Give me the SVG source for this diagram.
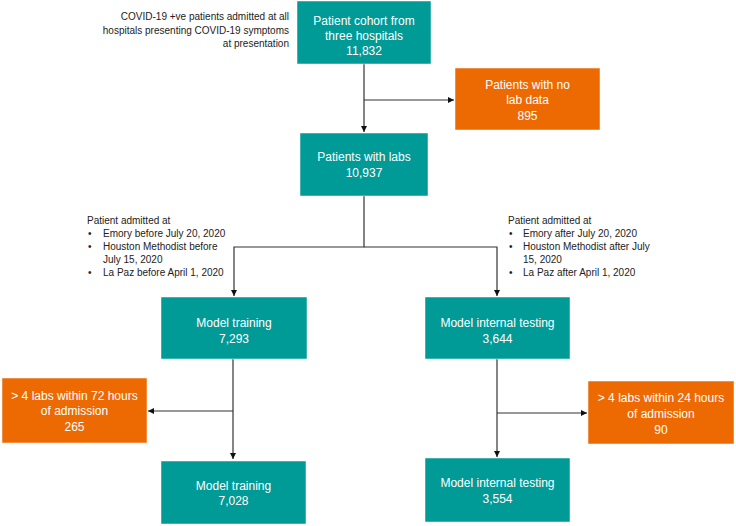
<svg xmlns="http://www.w3.org/2000/svg" width="736" height="526" viewBox="0 0 736 526">
<defs>
<style>
.teal{fill:#009a97;stroke:#ffffff;stroke-width:0.5}
.orange{fill:#ed6a03;stroke:#ffffff;stroke-width:0.5}
.bt{font-family:"Liberation Sans",Arial,sans-serif;font-size:12px;fill:#ffffff;text-anchor:middle}
.nt{font-family:"Liberation Sans",Arial,sans-serif;font-size:10px;fill:#222222}
.ln{fill:none;stroke:#333333;stroke-width:1.2}
</style>
<marker id="ah" viewBox="0 0 10 10" refX="10" refY="5" markerWidth="6" markerHeight="6" orient="auto" markerUnits="userSpaceOnUse">
<path d="M0,0 L10,5 L0,10 z" fill="#111111"/>
</marker>
</defs>
<rect width="736" height="526" fill="#ffffff"/>
<g id="connectors">
<path class="ln" d="M364,64 V132" marker-end="url(#ah)"/>
<path class="ln" d="M364,100 H454" marker-end="url(#ah)"/>
<path class="ln" d="M364,196 V247 H234 V296" marker-end="url(#ah)"/>
<path class="ln" d="M364,247 H497 V296" marker-end="url(#ah)"/>
<path class="ln" d="M233,359 V459" marker-end="url(#ah)"/>
<path class="ln" d="M233,411 H148" marker-end="url(#ah)"/>
<path class="ln" d="M497,359 V457" marker-end="url(#ah)"/>
<path class="ln" d="M497,413 H587" marker-end="url(#ah)"/>
</g>
<g id="note-top">
<text class="nt" text-anchor="end"><tspan x="289" y="20">COVID-19 +ve patients admitted at all</tspan><tspan x="289" y="33.5">hospitals presenting COVID-19 symptoms</tspan><tspan x="289" y="47">at presentation</tspan></text>
</g>
<g id="note-left">
<text class="nt"><tspan x="87" y="224">Patient admitted at</tspan></text>
<text class="nt"><tspan x="88" y="237">•</tspan><tspan x="103" y="237">Emory before July 20, 2020</tspan><tspan x="88" y="250">•</tspan><tspan x="103" y="250">Houston Methodist before</tspan><tspan x="103" y="263">July 15, 2020</tspan><tspan x="88" y="276">•</tspan><tspan x="103" y="276">La Paz before April 1, 2020</tspan></text>
</g>
<g id="note-right">
<text class="nt"><tspan x="508" y="224">Patient admitted at</tspan></text>
<text class="nt"><tspan x="509" y="237">•</tspan><tspan x="523" y="237">Emory after July 20, 2020</tspan><tspan x="509" y="250">•</tspan><tspan x="523" y="250">Houston Methodist after July</tspan><tspan x="523" y="263">15, 2020</tspan><tspan x="509" y="276">•</tspan><tspan x="523" y="276">La Paz after April 1, 2020</tspan></text>
</g>
<g id="cohort">
<rect class="teal" x="297" y="1" width="134" height="63"/>
<text class="bt"><tspan x="364" y="24.5">Patient cohort from</tspan><tspan x="364" y="39.5">three hospitals</tspan><tspan x="364" y="54.5">11,832</tspan></text>
</g>
<g id="no-lab">
<rect class="orange" x="455" y="68" width="145" height="62"/>
<text class="bt"><tspan x="527.5" y="88.5">Patients with no</tspan><tspan x="527.5" y="104">lab data</tspan><tspan x="527.5" y="119.5">895</tspan></text>
</g>
<g id="with-labs">
<rect class="teal" x="300" y="133" width="128" height="63"/>
<text class="bt"><tspan x="364" y="161">Patients with labs</tspan><tspan x="364" y="177">10,937</tspan></text>
</g>
<g id="train1">
<rect class="teal" x="161" y="297" width="146" height="62"/>
<text class="bt"><tspan x="234" y="326.5">Model training</tspan><tspan x="234" y="342.5">7,293</tspan></text>
</g>
<g id="test1">
<rect class="teal" x="425" y="297" width="145" height="62"/>
<text class="bt"><tspan x="497.5" y="326.5">Model internal testing</tspan><tspan x="497.5" y="342.5">3,644</tspan></text>
</g>
<g id="excl72">
<rect class="orange" x="2" y="378" width="145" height="65"/>
<text class="bt"><tspan x="74.5" y="399.5">&gt; 4 labs within 72 hours</tspan><tspan x="74.5" y="415">of admission</tspan><tspan x="74.5" y="431">265</tspan></text>
</g>
<g id="excl24">
<rect class="orange" x="588" y="381" width="146" height="63"/>
<text class="bt"><tspan x="661" y="401.5">&gt; 4 labs within 24 hours</tspan><tspan x="661" y="417.5">of admission</tspan><tspan x="661" y="433.5">90</tspan></text>
</g>
<g id="train2">
<rect class="teal" x="161" y="461" width="145" height="63"/>
<text class="bt"><tspan x="233.5" y="489.5">Model training</tspan><tspan x="233.5" y="505">7,028</tspan></text>
</g>
<g id="test2">
<rect class="teal" x="425" y="458" width="145" height="64"/>
<text class="bt"><tspan x="497.5" y="487">Model internal testing</tspan><tspan x="497.5" y="502.5">3,554</tspan></text>
</g>
</svg>
